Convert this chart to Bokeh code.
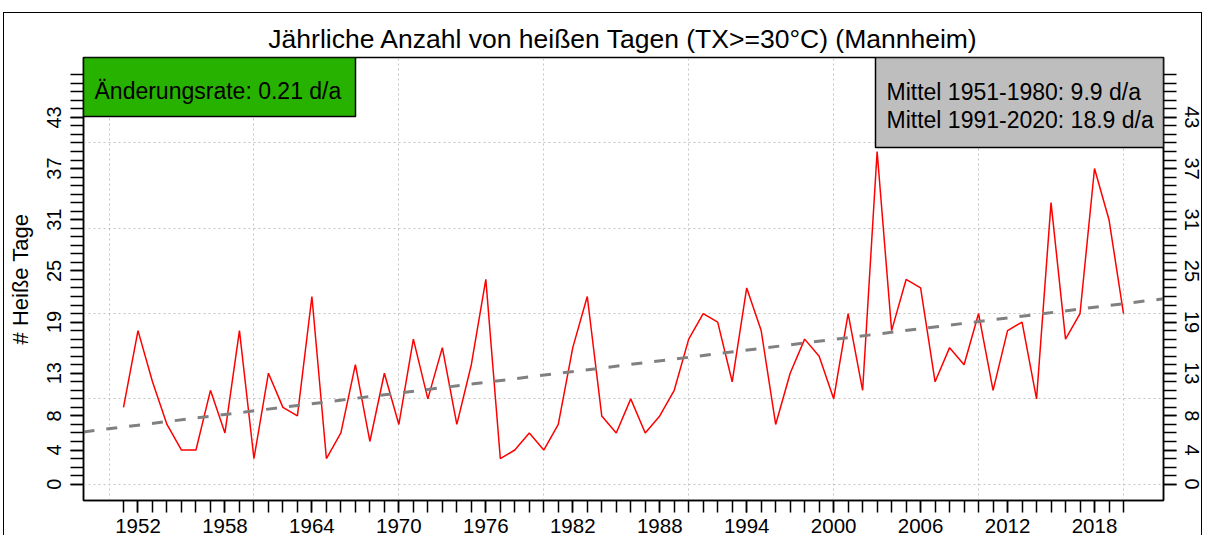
from bokeh.plotting import figure
from bokeh.models import Range1d, FixedTicker, LinearAxis, BoxAnnotation, Label
from bokeh.embed import file_html
from bokeh.resources import INLINE
import numpy as np

# ---------------- data ----------------
years = list(range(1951, 2021))
hot_days = [9, 18, 12, 7, 4, 4, 11, 6, 18, 3,
            13, 9, 8, 22, 3, 6, 14, 5, 13, 7,
            17, 10, 16, 7, 14, 24, 3, 4, 6, 4,
            7, 16, 22, 8, 6, 10, 6, 8, 11, 17,
            20, 19, 12, 23, 18, 7, 13, 17, 15, 10,
            20, 11, 39, 18, 24, 23, 12, 16, 14, 20,
            11, 18, 19, 10, 33, 17, 20, 37, 31, 20]
y_tick_labels = [0, 4, 8, 13, 19, 25, 31, 37, 43]
x_tick_labels = list(range(1952, 2019, 6))
x_grid = list(range(1950, 2021, 10))
y_grid = [0, 10, 20, 30, 40]
title_text = "Jährliche Anzahl von heißen Tagen (TX>=30°C) (Mannheim)"
rate_text = "Änderungsrate: 0.21 d/a"
mean_texts = ["Mittel 1951-1980: 9.9 d/a", "Mittel 1991-2020: 18.9 d/a"]

FONT = "Liberation Sans"

# ranges (R style 4% extension)
X0, X1 = 1948.24, 2022.76
Y0, Y1 = -1.92, 50.02

# page-pixel layout of the plot frame
OX, OY = 4.5, 13.5          # canvas origin on the page (margin + border)
FL, FT = 84, 58
FW, FH = 1080, 443


def xd(px):
    return X0 + (px - FL) / FW * (X1 - X0)


def yd(py):
    return Y1 - (py - FT) / FH * (Y1 - Y0)


p = figure(frame_width=FW, frame_height=FH,
           x_range=Range1d(X0, X1), y_range=Range1d(Y0, Y1),
           output_backend="svg", toolbar_location=None,
           min_border_left=int(FL - OX), min_border_top=int(FT - OY),
           min_border_right=37, min_border_bottom=30)
p.styles = {"margin-left": "3px", "margin-top": "12px",
            "border-left": "1.5px solid black",
            "border-top": "1.5px solid black",
            "border-right": "1.5px solid black"}

p.title.text = title_text
p.title.align = "center"
p.title.text_font = FONT
p.title.text_font_size = "26.5px"
p.title.text_font_style = "normal"
p.title.text_color = "black"
p.title.standoff = 8

p.outline_line_color = "black"
p.outline_line_width = 1.5
p.background_fill_color = "white"
p.border_fill_color = "white"

# grids
p.xgrid.ticker = FixedTicker(ticks=x_grid)
p.ygrid.ticker = FixedTicker(ticks=y_grid)
for g in (p.xgrid, p.ygrid):
    g.grid_line_color = "#C4C4C4"
    g.grid_line_dash = "2 3"
    g.grid_line_width = 1


def style_axis(ax, size):
    ax.axis_line_color = "black"
    ax.axis_line_width = 1.5
    ax.major_tick_line_color = "black"
    ax.minor_tick_line_color = "black"
    ax.major_tick_line_width = 1.5
    ax.minor_tick_line_width = 1.5
    ax.major_tick_out = 13
    ax.minor_tick_out = 13
    ax.major_tick_in = 0
    ax.minor_tick_in = 0
    ax.major_label_text_font = FONT
    ax.major_label_text_font_size = size
    ax.major_label_text_color = "black"


# x axis
xax = p.xaxis[0]
xax.ticker = FixedTicker(ticks=x_tick_labels, minor_ticks=years)
style_axis(xax, "20.5px")
xax.major_tick_out = 12
xax.minor_tick_out = 12
xax.major_label_standoff = 6

# left y axis
yax = p.yaxis[0]
yax.ticker = FixedTicker(ticks=y_tick_labels, minor_ticks=list(range(0, 49)))
style_axis(yax, "20px")
yax.major_label_orientation = "vertical"
yax.major_label_standoff = 9
yax.axis_label = "# Heiße Tage"
yax.axis_label_text_font = FONT
yax.axis_label_text_font_size = "22px"
yax.axis_label_text_font_style = "normal"
yax.axis_label_text_color = "black"
yax.axis_label_standoff = 12

# right y axis
rax = LinearAxis(ticker=FixedTicker(ticks=y_tick_labels, minor_ticks=list(range(0, 49))))
style_axis(rax, "20px")
rax.major_label_orientation = "vertical"
rax.major_label_standoff = 8
p.add_layout(rax, "right")

# data line
p.line(years, hot_days, line_color="red", line_width=1.5)

# linear trend
b, a = np.polyfit(years, hot_days, 1)
p.line([X0, X1], [a + b * X0, a + b * X1], line_color="#808080",
       line_width=3, line_dash="11 12")

# legend boxes
green = BoxAnnotation(left=X0, right=xd(356), bottom=yd(117), top=Y1,
                      fill_color="#28B200", fill_alpha=1.0,
                      line_color="black", line_width=1.5, line_alpha=1.0)
grey = BoxAnnotation(left=xd(876), right=X1, bottom=yd(148), top=Y1,
                     fill_color="#BEBEBE", fill_alpha=1.0,
                     line_color="black", line_width=1.5, line_alpha=1.0)
p.add_layout(green)
p.add_layout(grey)

p.add_layout(Label(x=xd(95), y=yd(91), text=rate_text, text_font=FONT,
                   text_font_size="23px", text_baseline="middle",
                   text_color="black"))
for i, t in enumerate(mean_texts):
    p.add_layout(Label(x=xd(887), y=yd(92 + 28 * i), text=t, text_font=FONT,
                       text_font_size="23px", text_baseline="middle",
                       text_color="black"))

open("out.html", "w").write(file_html(p, INLINE))
